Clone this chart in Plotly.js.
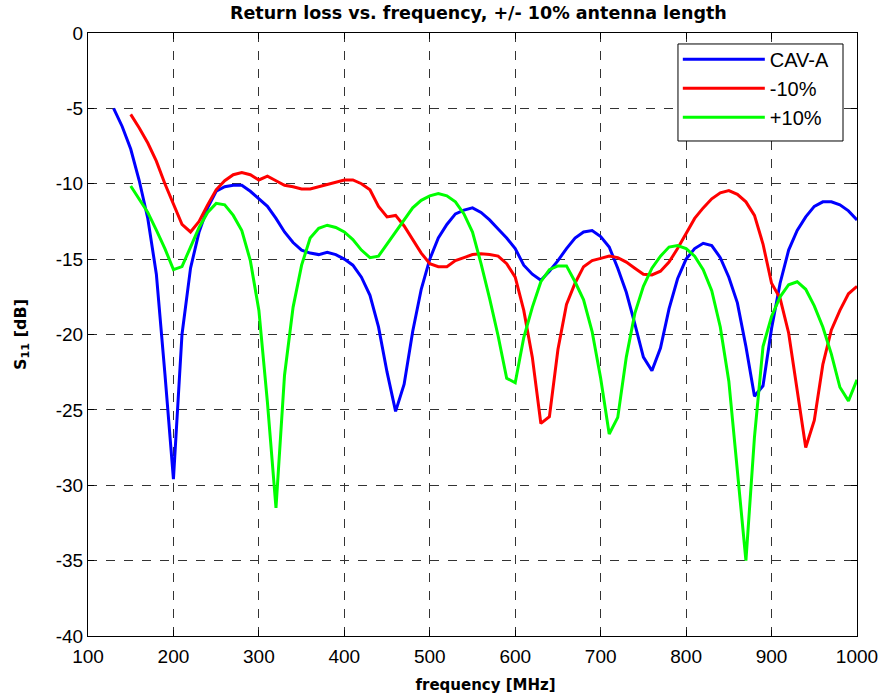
<!DOCTYPE html>
<html>
<head>
<meta charset="utf-8">
<script src="https://cdn.plot.ly/plotly-3.0.1.min.js"></script>
<style>html,body{margin:0;padding:0;background:#fff;}#chart{width:881px;height:700px;}</style>
</head>
<body>
<div id="chart"></div>
<script>
// Frequency grids (MHz)
const freqA = [130,140,150,160,170,180,190,200,210,220,230,240,250,260,270,280,290,300,310,320,330,340,350,360,370,380,390,400,410,420,430,440,450,460,470,480,490,500,510,520,530,540,550,560,570,580,590,600,610,620,630,640,650,660,670,680,690,700,710,720,730,740,750,760,770,780,790,800,810,820,830,840,850,860,870,880,890,900,910,920,930,940,950,960,970,980,990,1000];
const freqB = [150,160,170,180,190,200,210,220,230,240,250,260,270,280,290,300,310,320,330,340,350,360,370,380,390,400,410,420,430,440,450,460,470,480,490,500,510,520,530,540,550,560,570,580,590,600,610,620,630,640,650,660,670,680,690,700,710,720,730,740,750,760,770,780,790,800,810,820,830,840,850,860,870,880,890,900,910,920,930,940,950,960,970,980,990,1000];

// S11 [dB] series
const cavA = [-5.0,-6.2,-7.7,-9.8,-12.3,-16.0,-22.6,-29.6,-20.0,-15.6,-13.2,-11.6,-10.5,-10.2,-10.1,-10.1,-10.5,-11.0,-11.5,-12.3,-13.2,-13.9,-14.4,-14.6,-14.7,-14.55,-14.7,-15.0,-15.4,-16.2,-17.4,-19.5,-22.5,-25.1,-23.3,-19.8,-17.0,-15.0,-13.6,-12.7,-12.0,-11.75,-11.6,-11.9,-12.4,-13.0,-13.6,-14.3,-15.4,-16.0,-16.4,-15.8,-15.1,-14.3,-13.6,-13.2,-13.1,-13.5,-14.2,-15.6,-17.2,-19.3,-21.5,-22.4,-20.9,-18.3,-16.3,-15.0,-14.3,-13.95,-14.1,-14.9,-16.2,-17.9,-20.8,-24.1,-23.4,-19.6,-16.6,-14.4,-13.1,-12.2,-11.5,-11.2,-11.2,-11.4,-11.8,-12.4];
const minus10 = [-5.4,-6.3,-7.3,-8.5,-10.0,-11.3,-12.7,-13.2,-12.5,-11.4,-10.4,-9.8,-9.4,-9.25,-9.4,-9.75,-9.5,-9.8,-10.1,-10.2,-10.35,-10.35,-10.2,-10.0,-9.85,-9.75,-9.75,-10.0,-10.4,-11.5,-12.2,-12.1,-12.8,-13.7,-14.6,-15.3,-15.5,-15.5,-15.1,-14.9,-14.7,-14.65,-14.7,-14.8,-15.3,-16.2,-18.4,-21.5,-25.9,-25.45,-21.0,-18.0,-16.6,-15.5,-15.1,-14.95,-14.8,-14.9,-15.2,-15.6,-16.0,-16.05,-15.8,-15.2,-14.3,-13.3,-12.3,-11.6,-11.0,-10.6,-10.45,-10.7,-11.2,-12.1,-14.0,-16.6,-17.6,-19.9,-23.8,-27.5,-25.7,-22.0,-19.7,-18.4,-17.3,-16.8];
const plus10 = [-10.15,-11.0,-11.9,-13.07,-14.3,-15.7,-15.5,-14.2,-12.9,-11.9,-11.3,-11.4,-12.1,-13.1,-15.1,-18.4,-24.5,-31.5,-22.7,-18.2,-15.4,-13.6,-12.95,-12.75,-12.9,-13.2,-13.7,-14.4,-14.9,-14.8,-14.0,-13.2,-12.4,-11.6,-11.1,-10.8,-10.65,-10.8,-11.2,-12.0,-13.2,-15.3,-17.6,-20.1,-22.9,-23.2,-20.2,-18.2,-16.5,-15.7,-15.45,-15.45,-16.5,-17.7,-19.8,-22.9,-26.6,-25.5,-21.5,-18.6,-16.8,-15.6,-14.8,-14.2,-14.1,-14.3,-14.8,-15.7,-17.1,-19.5,-23.1,-29.2,-35.0,-26.8,-20.8,-18.8,-17.5,-16.7,-16.5,-17.0,-18.1,-19.5,-21.3,-23.5,-24.4,-23.0];

const seriesNames = ['CAV-A','-10%','+10%'];
const xTicks = [100,200,300,400,500,600,700,800,900,1000];
const yTicks = [0,-5,-10,-15,-20,-25,-30,-35,-40];

const traces = [
  {x: freqA, y: cavA, name: seriesNames[0], mode: 'lines', line: {color: '#0000ff', width: 3}},
  {x: freqB, y: minus10, name: seriesNames[1], mode: 'lines', line: {color: '#ff0000', width: 3}},
  {x: freqB, y: plus10, name: seriesNames[2], mode: 'lines', line: {color: '#00ff00', width: 3}}
];

const sansFont = 'Liberation Sans, Arial, sans-serif';
const boldFont = 'DejaVu Sans, Verdana, sans-serif';

const axisCommon = {
  showline: true, linecolor: '#000', linewidth: 1, mirror: 'allticks',
  ticks: 'inside', ticklen: 6, tickcolor: '#000',
  showgrid: true, gridcolor: '#333', griddash: 'dash', gridwidth: 1,
  zeroline: false,
  tickfont: {family: sansFont, size: 19, color: '#000'}
};

const layout = {
  width: 881, height: 700,
  margin: {l: 88, r: 24, t: 33, b: 64},
  paper_bgcolor: '#fff', plot_bgcolor: '#fff',
  title: {text: '<b>Return loss vs. frequency, +/- 10% antenna length</b>',
    font: {family: boldFont, size: 17.5, color: '#000'},
    x: 0.543, xanchor: 'center', y: 0.99, yanchor: 'top'},
  xaxis: Object.assign({}, axisCommon, {
    range: [100, 1000], tickvals: xTicks, ticktext: xTicks.map(String),
    ticklabelstandoff: 3,
    title: {text: '<b>&nbsp;&nbsp;&nbsp;&nbsp;&nbsp;frequency [MHz]</b>', standoff: 13,
      font: {family: boldFont, size: 15, color: '#000'}}
  }),
  yaxis: Object.assign({}, axisCommon, {
    range: [-40, 0], tickvals: yTicks, ticktext: yTicks.map(String),
    title: {text: '<b>S<sub>11</sub> [dB]</b>', standoff: 25,
      font: {family: boldFont, size: 16, color: '#000'}}
  }),
  shapes: [
    {type: 'rect', xref: 'paper', yref: 'paper', x0: 0.7672, x1: 0.9818, y0: 0.8209, y1: 0.9818,
     fillcolor: '#fff', line: {color: '#000', width: 1}, layer: 'above'}
  ],
  showlegend: true,
  legend: {x: 0.767, y: 0.989, xanchor: 'left', yanchor: 'top',
    bgcolor: 'rgba(0,0,0,0)', borderwidth: 0,
    font: {family: sansFont, size: 20, color: '#000'},
    itemwidth: 82}
};

Plotly.newPlot('chart', traces, layout, {displayModeBar: false, staticPlot: true});
</script>
</body>
</html>
